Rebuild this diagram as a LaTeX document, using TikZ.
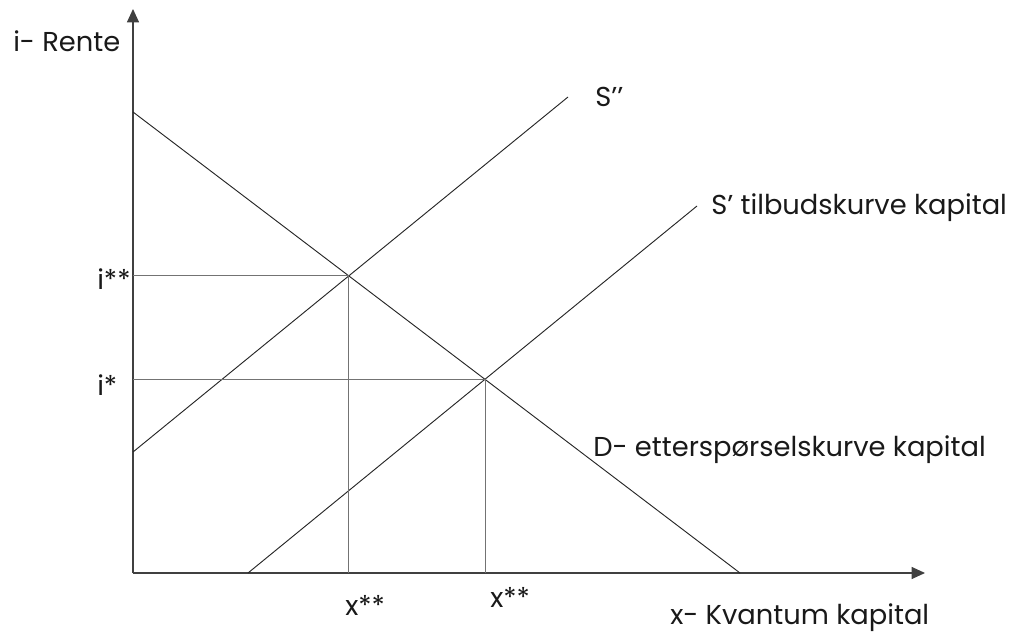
\documentclass[tikz,border=0pt]{standalone}
\usepackage{fontspec}
\setmainfont{Poppins}
\usetikzlibrary{arrows.meta,intersections,calc}

\begin{document}
\begin{tikzpicture}[
      x=0.75pt, y=-0.75pt,
      font=\fontsize{20.5}{24}\selectfont,
      axis/.style={-{Triangle[length=10pt,width=9pt]}, line width=0.8pt, black!75},
      curve/.style={line width=0.7pt, black!85},
      guide/.style={line width=0.7pt, black!55},
      lbl/.style={anchor=base west, inner sep=0pt, text=black!90},
    ]
    \useasboundingbox (0,0) rectangle (1016,634);

    % --- axes ---
    \coordinate (O) at (133,573);
    \coordinate (ytip) at (133,9);
    \coordinate (xtip) at (925,573);
    \draw[axis] (O) -- (ytip);
    \draw[axis] (O) -- (xtip);

    % --- demand and the two supply lines ---
    \coordinate (Dtop) at (133,112);  \coordinate (Dend) at (740,573);
    \coordinate (S2a) at (133,452);   \coordinate (S2b) at (568,97);
    \coordinate (S1a) at (248,573);   \coordinate (S1b) at (697,206);
    \draw[curve, name path=dem] (Dtop) -- (Dend);
    \draw[curve, name path=sup2] (S2a) -- (S2b);
    \draw[curve, name path=sup1] (S1a) -- (S1b);

    % --- equilibria and guide lines ---
    \path[name intersections={of=dem and sup2, by=E2}];
    \path[name intersections={of=dem and sup1, by=E1}];
    \draw[guide] (O |- E2) -- (E2) -- (E2 |- O);
    \draw[guide] (O |- E1) -- (E1) -- (E1 |- O);

    % --- labels ---
    \node[lbl] (yname) at (13,52) {i- Rente};
    \node[lbl] (xname) at (670,624) {x- Kvantum kapital};
    \node[lbl] (s2name) at (595,107) {S’’};
    \node[lbl] (s1name) at (711,215) {S’ tilbudskurve kapital};
    \node[lbl] (dname) at (593,456) {D- etterspørselskurve kapital};
    \node[lbl] (ihigh) at (97,290) {i**};
    \node[lbl] (ilow) at (97,395) {i*};
    \node[lbl] (xleft) at (345,615) {x**};
    \node[lbl] (xright) at (490,607) {x**};
  \end{tikzpicture}
\end{document}
